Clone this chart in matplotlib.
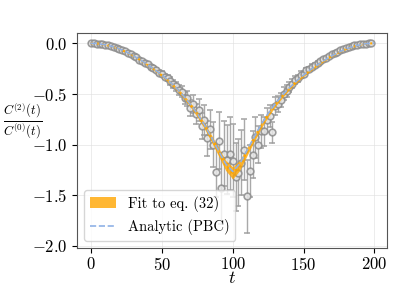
import numpy as np
import matplotlib
matplotlib.use("Agg")
import matplotlib.pyplot as plt

plt.rcParams['font.family'] = 'serif'
plt.rcParams['font.serif'] = ['cmr10']
plt.rcParams['mathtext.fontset'] = 'cm'
plt.rcParams['axes.formatter.use_mathtext'] = True

# lattice data, t = 0, 2, ..., 198
t_data = list(range(0, 200, 2))
ratio = [0.000, -0.001, -0.003, -0.006, -0.011, -0.015, -0.021, -0.030, -0.037, -0.048,
         -0.056, -0.070, -0.081, -0.097, -0.108, -0.127, -0.140, -0.161, -0.173, -0.198,
         -0.210, -0.236, -0.246, -0.268, -0.290, -0.300, -0.330, -0.345, -0.372, -0.400,
         -0.425, -0.462, -0.478, -0.540, -0.545, -0.640, -0.600, -0.700, -0.660, -0.820,
         -0.760, -0.940, -0.850, -1.000, -1.270, -0.960, -1.430, -1.090, -1.150, -1.090,
         -1.160, -1.320, -1.280, -1.180, -1.050, -1.510, -1.260, -1.100, -0.930, -1.000,
         -0.870, -0.870, -0.760, -0.720, -0.880, -0.620, -0.600, -0.560, -0.500, -0.470,
         -0.430, -0.400, -0.360, -0.345, -0.310, -0.300, -0.268, -0.256, -0.230, -0.216,
         -0.193, -0.178, -0.157, -0.144, -0.123, -0.111, -0.094, -0.083, -0.068, -0.058,
         -0.046, -0.038, -0.029, -0.022, -0.015, -0.010, -0.006, -0.003, -0.001, 0.000]
ratio_err = [0.001, 0.001, 0.002, 0.002, 0.003, 0.003, 0.004, 0.004, 0.005, 0.005,
             0.006, 0.006, 0.007, 0.008, 0.008, 0.009, 0.010, 0.011, 0.012, 0.013,
             0.014, 0.016, 0.018, 0.020, 0.022, 0.025, 0.028, 0.032, 0.036, 0.040,
             0.045, 0.050, 0.056, 0.063, 0.070, 0.080, 0.090, 0.100, 0.110, 0.130,
             0.150, 0.170, 0.190, 0.220, 0.250, 0.280, 0.350, 0.320, 0.340, 0.360,
             0.360, 0.340, 0.330, 0.320, 0.300, 0.360, 0.260, 0.230, 0.200, 0.180,
             0.160, 0.140, 0.120, 0.110, 0.100, 0.090, 0.080, 0.070, 0.063, 0.056,
             0.050, 0.045, 0.040, 0.036, 0.032, 0.028, 0.025, 0.022, 0.020, 0.018,
             0.016, 0.014, 0.013, 0.012, 0.011, 0.010, 0.009, 0.008, 0.008, 0.007,
             0.006, 0.006, 0.005, 0.005, 0.004, 0.004, 0.003, 0.003, 0.002, 0.001]

# fit band and analytic curve, t = 0, 5, ..., 200
t_curve = list(range(0, 201, 5))
fit_mid = [0.000, -0.004, -0.015, -0.033, -0.057, -0.089, -0.126, -0.168, -0.215, -0.264,
           -0.318, -0.378, -0.444, -0.520, -0.606, -0.702, -0.813, -0.940, -1.072, -1.205,
           -1.280, -1.205, -1.072, -0.940, -0.813, -0.702, -0.606, -0.520, -0.444, -0.378,
           -0.318, -0.264, -0.215, -0.168, -0.126, -0.089, -0.057, -0.033, -0.015, -0.004, 0.000]
fit_err = [0.000, 0.001, 0.002, 0.003, 0.004, 0.005, 0.006, 0.007, 0.008, 0.010,
           0.011, 0.013, 0.015, 0.018, 0.021, 0.025, 0.029, 0.034, 0.040, 0.050,
           0.060, 0.050, 0.040, 0.034, 0.029, 0.025, 0.021, 0.018, 0.015, 0.013,
           0.011, 0.010, 0.008, 0.007, 0.006, 0.005, 0.004, 0.003, 0.002, 0.001, 0.000]
analytic = [0.000, -0.004, -0.015, -0.033, -0.057, -0.088, -0.125, -0.167, -0.214, -0.262,
            -0.315, -0.375, -0.440, -0.515, -0.600, -0.695, -0.805, -0.930, -1.060, -1.190,
            -1.265, -1.190, -1.060, -0.930, -0.805, -0.695, -0.600, -0.515, -0.440, -0.375,
            -0.315, -0.262, -0.214, -0.167, -0.125, -0.088, -0.057, -0.033, -0.015, -0.004, 0.000]

fit_mid = np.array(fit_mid)
fit_err = np.array(fit_err)

fig = plt.figure(figsize=(4.07, 2.85), dpi=100)
ax = fig.add_axes([0.189, 0.130, 0.762, 0.754])

ax.errorbar(t_data, ratio, yerr=ratio_err, fmt='o', ms=4.8, mfc='#e6e6e6', mec='#8c8c8c',
            mew=1.2, ecolor='#9a9a9a', elinewidth=1.0, capsize=2, alpha=0.85, zorder=2)
ax.fill_between(t_curve, fit_mid - fit_err, fit_mid + fit_err, color='orange', alpha=0.8,
                lw=0, label='Fit to eq. (32)', zorder=3)
ax.plot(t_curve, fit_mid, ':', color='orange', lw=1.5, zorder=4)
ax.plot(t_curve, analytic, '--', color='#8fb1e6', lw=1.2, label='Analytic (PBC)', zorder=5)

ax.set_xlim(-10, 209)
ax.set_ylim(-2.02, 0.1)
ax.set_xticks([0, 50, 100, 150, 200])
ax.set_yticks([0.0, -0.5, -1.0, -1.5, -2.0])
ax.grid(True, color='#e0e0e0', lw=0.6, alpha=0.7)
ax.tick_params(labelsize=12)
ax.tick_params(axis='x', pad=2)
for s in ax.spines.values():
    s.set_color('#555555')

ax.set_xlabel(r'$t$', fontsize=13, va='center')
ax.xaxis.set_label_coords(0.5, -0.142)
ax.set_ylabel(r'$\frac{C^{(2)}(t)}{C^{(0)}(t)}$', fontsize=13, rotation=0, va='center',
              ha='center')
ax.yaxis.set_label_coords(-0.175, 0.586)
ax.legend(loc='lower left', fontsize=10.5, handlelength=1.8, framealpha=0.8)

fig.savefig('out.png', dpi=100)
